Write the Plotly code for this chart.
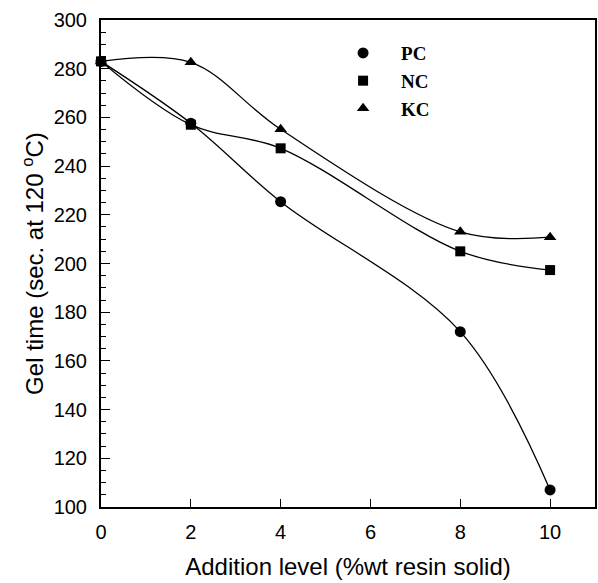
import plotly.graph_objects as go

x_levels = [0, 2, 4, 8, 10]
pc_values = [283.0, 257.6, 225.4, 172.0, 107.0]
nc_values = [283.0, 257.0, 247.3, 205.0, 197.3]
kc_values = [283.0, 282.6, 255.1, 213.0, 210.8]
series_names = ["PC", "NC", "KC"]
series_symbols = ["circle", "square", "triangle-up"]
series_sizes = [11, 10, 11]
x_ticks = [0, 2, 4, 6, 8, 10]
y_ticks = [100, 120, 140, 160, 180, 200, 220, 240, 260, 280, 300]

fig = go.Figure()
for vals in [pc_values, nc_values, kc_values]:
    fig.add_trace(go.Scatter(x=x_levels, y=vals, mode="lines",
                             line=dict(color="black", width=1.3, shape="spline", smoothing=1.0),
                             showlegend=False, hoverinfo="skip"))
for name, vals, sym, sz in zip(series_names, [pc_values, nc_values, kc_values], series_symbols, series_sizes):
    fig.add_trace(go.Scatter(x=x_levels, y=vals, mode="markers", name=name,
                             marker=dict(symbol=sym, size=sz, color="black"),
                             cliponaxis=False))

tick_font = dict(family="Arial, Liberation Sans, sans-serif", size=20, color="black")
fig.update_layout(
    width=598, height=583,
    margin=dict(l=101, r=1, t=20, b=76),
    paper_bgcolor="white", plot_bgcolor="white",
    font=tick_font,
    legend=dict(x=0.4536, y=0.971, xanchor="left", yanchor="top",
                font=dict(family="Liberation Serif, Times New Roman, serif", size=19, color="black", weight="bold"),
                bgcolor="rgba(0,0,0,0)", tracegroupgap=0, itemwidth=66),
)
fig.update_xaxes(range=[0, 11], tickvals=x_ticks, ticktext=[str(v) for v in x_ticks],
                 ticks="inside", ticklen=8, tickwidth=1, tickcolor="black",
                 showline=True, linecolor="black", linewidth=2, mirror=True,
                 showgrid=False, zeroline=False, tickfont=tick_font, ticklabelstandoff=6,
                 title=dict(text="Addition level (%wt resin solid)",
                            font=dict(family="Arial, Liberation Sans, sans-serif", size=24, color="black"), standoff=16))
fig.update_yaxes(range=[100, 300], tickvals=y_ticks, ticktext=[str(v) for v in y_ticks],
                 ticks="inside", ticklen=9, tickwidth=1, tickcolor="black",
                 minor=dict(dtick=5, ticks="inside", ticklen=5, tickwidth=1, tickcolor="black", showgrid=False),
                 showline=True, linecolor="black", linewidth=2, mirror=True,
                 showgrid=False, zeroline=False, tickfont=tick_font, ticklabelstandoff=8,
                 title=dict(text="Gel time (sec. at 120 <sup>o</sup>C)",
                            font=dict(family="Arial, Liberation Sans, sans-serif", size=24, color="black"), standoff=3))

fig.write_html("out.html")
